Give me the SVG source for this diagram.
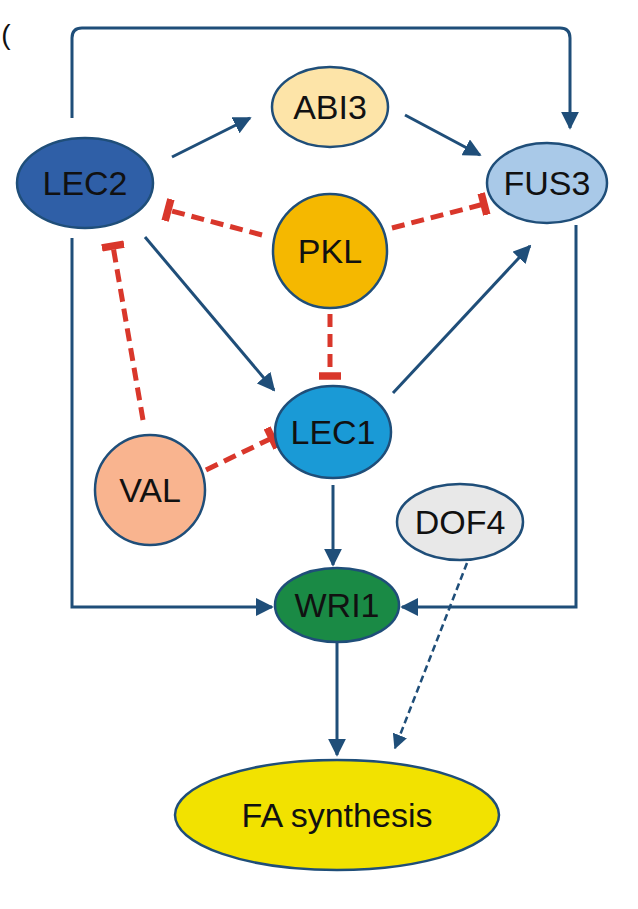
<svg xmlns="http://www.w3.org/2000/svg" width="638" height="909" viewBox="0 0 638 909">
<defs>
<marker id="arr" viewBox="0 0 10 10" refX="9" refY="5" markerWidth="6" markerHeight="6" orient="auto-start-reverse" markerUnits="strokeWidth"><path d="M0,0 L10,5 L0,10 z" fill="#1f4e79"/></marker>
<marker id="tee" viewBox="0 0 4 12" refX="2" refY="6" markerWidth="2.2" markerHeight="4.5" orient="auto" markerUnits="strokeWidth"><rect x="0" y="0" width="4" height="12" fill="#d9372b"/></marker>
<style>
.a{fill:none;stroke:#1f4e79;stroke-width:3;marker-end:url(#arr)}
.d{fill:none;stroke:#1f4e79;stroke-width:2.5;stroke-dasharray:7 4;marker-end:url(#arr)}
.i{fill:none;stroke:#d9372b;stroke-width:5;stroke-dasharray:13 7;marker-end:url(#tee)}
.n{stroke:#1f4e79;stroke-width:2.5}
text{font-family:"Liberation Sans",Arial,sans-serif;font-size:34px;text-anchor:middle;dominant-baseline:central;fill:#111}
</style>
</defs>
<text x="6" y="34" style="font-size:28px">(</text>
<g id="connectors">
<path class="a" d="M72,118 V38 Q72,28 82,28 H560 Q570,28 570,38 V128"/>
<path class="a" d="M172,157 L250,118"/>
<path class="a" d="M405,115 L480,155"/>
<path class="i" d="M262,235 L168,210"/>
<path class="i" d="M392,228 L484,204"/>
<path class="i" d="M330,314 L330,376"/>
<path class="a" d="M145,237 L274,390"/>
<path class="a" d="M393,393 L530,246"/>
<path class="i" d="M143,420 L113,246"/>
<path class="i" d="M206,470 L272,438"/>
<path class="a" d="M333,485 L333,565"/>
<path class="a" d="M72,238 V607 H272"/>
<path class="a" d="M576,225 V607 H402"/>
<path class="a" d="M337,642 L337,755"/>
<path class="d" d="M467,563 L395,748"/>
</g>
<g id="LEC2"><ellipse class="n" cx="85" cy="183" rx="68" ry="45" fill="#2f5fa7"/><text x="85" y="183">LEC2</text></g>
<g id="ABI3"><ellipse class="n" cx="330" cy="107" rx="58" ry="40" fill="#fde4a8"/><text x="330" y="107">ABI3</text></g>
<g id="FUS3"><ellipse class="n" cx="547" cy="183" rx="60" ry="40" fill="#a9c9e8"/><text x="547" y="183">FUS3</text></g>
<g id="PKL"><circle class="n" cx="330" cy="251" r="57" fill="#f5b800"/><text x="330" y="251">PKL</text></g>
<g id="LEC1"><ellipse class="n" cx="333" cy="432" rx="58" ry="46" fill="#1a9ad6"/><text x="333" y="432">LEC1</text></g>
<g id="VAL"><ellipse class="n" cx="150" cy="490" rx="55" ry="55" fill="#f9b48f"/><text x="150" y="490">VAL</text></g>
<g id="DOF4"><ellipse class="n" cx="460" cy="522" rx="63" ry="38" fill="#e8e8e8"/><text x="460" y="522">DOF4</text></g>
<g id="WRI1"><ellipse class="n" cx="337" cy="605" rx="62" ry="37" fill="#1a8a45"/><text x="337" y="605">WRI1</text></g>
<g id="FA"><ellipse class="n" cx="337" cy="815" rx="162" ry="55" fill="#f2e200"/><text x="337" y="815">FA synthesis</text></g>
</svg>
